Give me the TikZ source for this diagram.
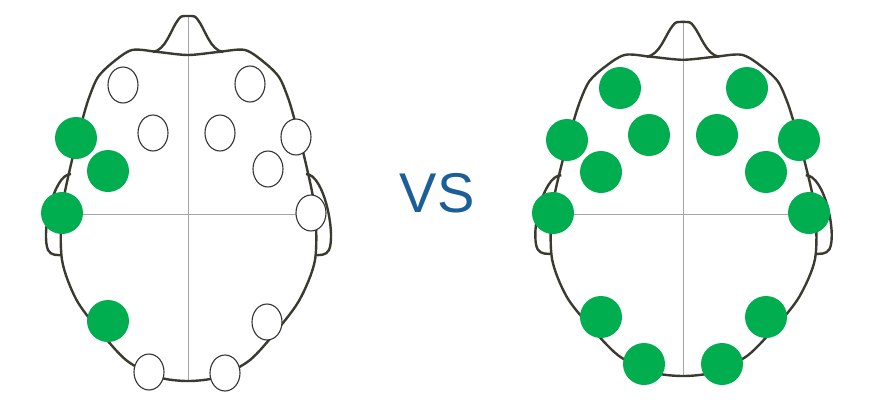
\documentclass[tikz,border=0pt]{standalone}
\usepackage{fontspec}
\setmainfont{Liberation Sans}
\usepackage{tikz}
\usetikzlibrary{shapes.geometric}
\definecolor{verde}{HTML}{00AE4F}
\definecolor{azul}{HTML}{1B5F98}
\definecolor{trazo}{HTML}{3B3A30}

% Contorno de la cabeza (centro en el cruce de los ejes)
\newcommand{\cabeza}[2]{%
  \begin{scope}[xscale=#1, yscale=#2]
    % ejes
    \draw[eje] (0,-197) -- (0,167);
    \draw[eje] (-126,0) -- (127,0);
    % craneo
    \draw[borde] plot[smooth cycle] coordinates {
      (0,-159) (30,-162) (57,-164) (77,-151) (91,-137) (99,-119) (105,-100)
      (117,-54) (127,-4) (127,46) (112,85) (90,115) (62,146) (30,163)
      (0,167) (-30,163) (-62,146) (-90,115) (-112,85) (-126,46)
      (-126,-4) (-116,-54) (-104,-100) (-98,-119) (-90,-137) (-76,-151)
      (-56,-164) (-30,-162)};
    % nariz
    \draw[borde] (-35,-162) .. controls (-22,-164) and (-17,-185) .. (-10,-194)
      .. controls (-7,-198) .. (0,-198) .. controls (7,-198) .. (10,-194)
      .. controls (17,-185) and (22,-164) .. (35,-162);
    % orejas
    \draw[borde] (-117,-40) .. controls (-135,-40) and (-147,20) .. (-140,36)
      .. controls (-137,42) and (-130,41) .. (-126,41);
    \draw[borde] (118,-40) .. controls (136,-40) and (148,20) .. (141,36)
      .. controls (138,42) and (131,41) .. (127,41);
  \end{scope}}

\begin{document}
\begin{tikzpicture}[x=1pt, y=-1pt]
\tikzstyle{borde}=[draw=trazo, line width=2.4pt, line join=round]
\tikzstyle{eje}=[draw=gray!70, line width=0.8pt]
\tikzstyle{apagado}=[
    ellipse,
    draw=black!80,
    line width=1.1pt,
    fill=white,
    inner sep=0pt,
    minimum width=30pt,
    minimum height=36pt
]
\tikzstyle{activo}=[
    ellipse,
    fill=verde,
    inner sep=0pt,
    minimum width=42pt,
    minimum height=42pt
]

\useasboundingbox (0,0) rectangle (880,407);

% Cabeza izquierda
\begin{scope}[shift={(188,214)}]
\cabeza{1}{1}
\node[apagado] (i1) at (-65,-129) {};
\node[apagado] (i2) at (62,-130) {};
\node[apagado] (i3) at (-35,-81) {};
\node[apagado] (i4) at (32,-81) {};
\node[apagado] (i5) at (108,-77) {};
\node[apagado] (i6) at (80,-45) {};
\node[apagado] (i7) at (123,-1) {};
\node[apagado] (i8) at (79,108) {};
\node[apagado] (i9) at (-39,158) {};
\node[apagado] (i10) at (37,159) {};
\node[activo] (i11) at (-112,-76) {};
\node[activo] (i12) at (-80,-43) {};
\node[activo] (i13) at (-126,-1) {};
\node[activo] (i14) at (-80,107) {};
\end{scope}

\node[text=azul, font=\fontsize{56}{56}\selectfont] (vs) at (437,193) {VS};

% Cabeza derecha
\begin{scope}[shift={(683,214)}]
\cabeza{1.04}{0.97}
\node[activo] (d1) at (-63,-126) {};
\node[activo] (d2) at (64,-126) {};
\node[activo] (d3) at (-116,-74) {};
\node[activo] (d4) at (-34,-79) {};
\node[activo] (d5) at (34,-79) {};
\node[activo] (d6) at (116,-74) {};
\node[activo] (d7) at (-82,-42) {};
\node[activo] (d8) at (83,-42) {};
\node[activo] (d9) at (-130,-1) {};
\node[activo] (d10) at (126,-1) {};
\node[activo] (d11) at (-82,103) {};
\node[activo] (d12) at (83,103) {};
\node[activo] (d13) at (-39,150) {};
\node[activo] (d14) at (39,150) {};
\end{scope}

\end{tikzpicture}
\end{document}
